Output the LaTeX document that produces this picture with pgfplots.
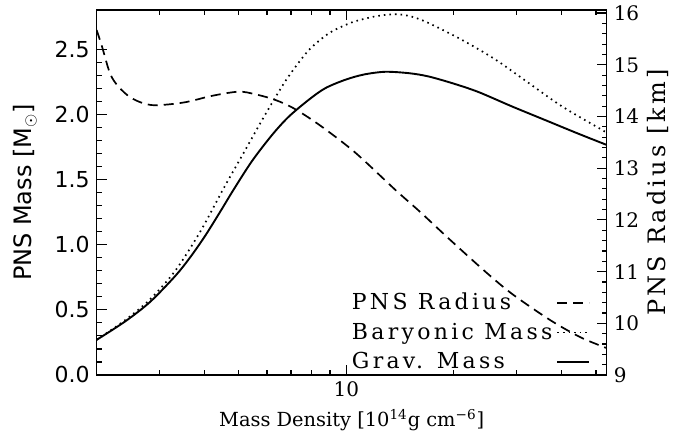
\documentclass[border=0pt]{standalone}
\usepackage{fontspec}
\setmainfont{DejaVu Serif}
\newfontfamily\sansf{DejaVu Sans}
\newfontfamily\wide[LetterSpace=15]{DejaVu Serif}
\newfontfamily\wider[LetterSpace=13]{DejaVu Serif}
\usepackage{pgfplots}
\pgfplotsset{compat=1.18}
\tikzset{
  dashsty/.style={black, line width=0.85pt, dash pattern=on 5pt off 3pt},
  dotsty/.style={black, line width=0.85pt, dash pattern=on 0.8pt off 2pt},
  solsty/.style={black, line width=0.95pt},
}
\begin{document}
\begin{tikzpicture}
\begin{axis}[
  scale only axis, width=255pt, height=182.5pt,
  xmode=log, xmin=2, xmax=53.6,
  tick align=inside,
  major tick length=5pt, minor tick length=2.5pt,
  axis line style={line width=0.7pt},
  every tick/.style={black, line width=0.6pt},
  /pgf/number format/assume math mode=true,
  ymin=0, ymax=2.8,
  xtick={10}, xticklabels={10},
  minor xtick={2,3,4,5,6,7,8,9,20,30,40,50},
  xtick pos=both, xticklabel pos=bottom,
  ytick={0,0.5,1,1.5,2,2.5}, minor y tick num=4,
  ytick pos=left,
  yticklabel={\pgfmathprintnumber[fixed,fixed zerofill,precision=1]{\tick}},
  yticklabel style={font=\sansf\fontsize{11}{13}\selectfont},
  xticklabel style={font=\fontsize{10}{12}\selectfont},
  ylabel={PNS Mass [M$_\odot$]},
  ylabel style={font=\sansf\fontsize{12}{14}\selectfont, at={(axis description cs:-0.1406,0.5)}, anchor=center},
  xlabel={Mass Density [10\textsuperscript{14}g cm\textsuperscript{−6}]},
  xlabel style={font=\fontsize{9.7}{12}\selectfont, at={(axis description cs:0.5,0)}, anchor=center, yshift=-22.5pt},
]
\addplot[dotsty, smooth] coordinates {
(2.00,0.27) (2.40,0.42) (2.82,0.58) (3.32,0.80) (3.90,1.10) (4.53,1.43)
(5.21,1.725) (5.81,1.956) (6.33,2.13) (6.89,2.29) (7.84,2.49) (8.92,2.62)
(9.94,2.685) (10.48,2.71) (12.0,2.75) (13.72,2.768) (15.2,2.75) (17.00,2.70)
(21.10,2.57) (26.15,2.42) (32.41,2.24) (40.20,2.06) (52.02,1.88) (53.6,1.86)};
\addplot[solsty, smooth] coordinates {
(2.00,0.27) (2.40,0.41) (2.82,0.56) (3.32,0.76) (3.66,0.905) (4.03,1.07)
(4.44,1.255) (4.83,1.42) (5.44,1.64) (6.19,1.84) (6.89,1.98) (7.84,2.11)
(8.73,2.20) (9.94,2.265) (11.2,2.305) (12.86,2.326) (15.0,2.315) (17.00,2.29)
(20.0,2.235) (23.48,2.17) (29.11,2.06) (36.09,1.955) (44.74,1.85) (53.6,1.765)};
\coordinate (sw) at (rel axis cs:0,0);
\coordinate (ne) at (rel axis cs:1,1);
\end{axis}
\begin{axis}[
  scale only axis, width=255pt, height=182.5pt,
  xmode=log, xmin=2, xmax=53.6,
  tick align=inside,
  major tick length=5pt, minor tick length=2.5pt,
  axis line style={line width=0.7pt},
  every tick/.style={black, line width=0.6pt},
  /pgf/number format/assume math mode=true,
  axis x line=none,
  axis y line*=right,
  ymin=9, ymax=16.06,
  ytick={9,10,11,12,13,14,15,16}, minor y tick num=4,
  yticklabel style={font=\fontsize{10}{12}\selectfont},
  ylabel={PNS Radius [km]},
  ylabel style={font=\wider\fontsize{12}{14}\selectfont, at={(axis description cs:1.1006,0.5)}, anchor=center},
  legend plot pos=right,
  legend cell align=left,
  legend image code/.code={\draw[#1] (0pt,0pt) -- (16pt,0pt);},
  legend style={draw=none, fill=none, at={(0.48,0.247)}, anchor=north west,
    font=\wide\fontsize{11}{13}\selectfont, row sep=1pt},
]
\addplot[dashsty, smooth] coordinates {
(2.00,15.67) (2.07,15.35) (2.18,14.83) (2.30,14.58) (2.51,14.35) (2.86,14.22)
(3.50,14.27) (4.21,14.40) (4.99,14.48) (5.56,14.43) (6.33,14.32) (7.20,14.14)
(8.55,13.80) (10.60,13.30) (13.72,12.58) (16.12,12.15) (19.56,11.61)
(24.78,10.97) (29.36,10.55) (37.27,10.06) (45.24,9.73) (53.6,9.52)};
\addlegendentry{PNS Radius}
\addlegendimage{dotsty}
\addlegendentry{Baryonic Mass}
\addlegendimage{solsty}
\addlegendentry{Grav. Mass}
\end{axis}
\pgfresetboundingbox
\path ([shift={(-48.35pt,-34pt)}]sw) rectangle ([shift={(40.65pt,5pt)}]ne);
\end{tikzpicture}
\end{document}
